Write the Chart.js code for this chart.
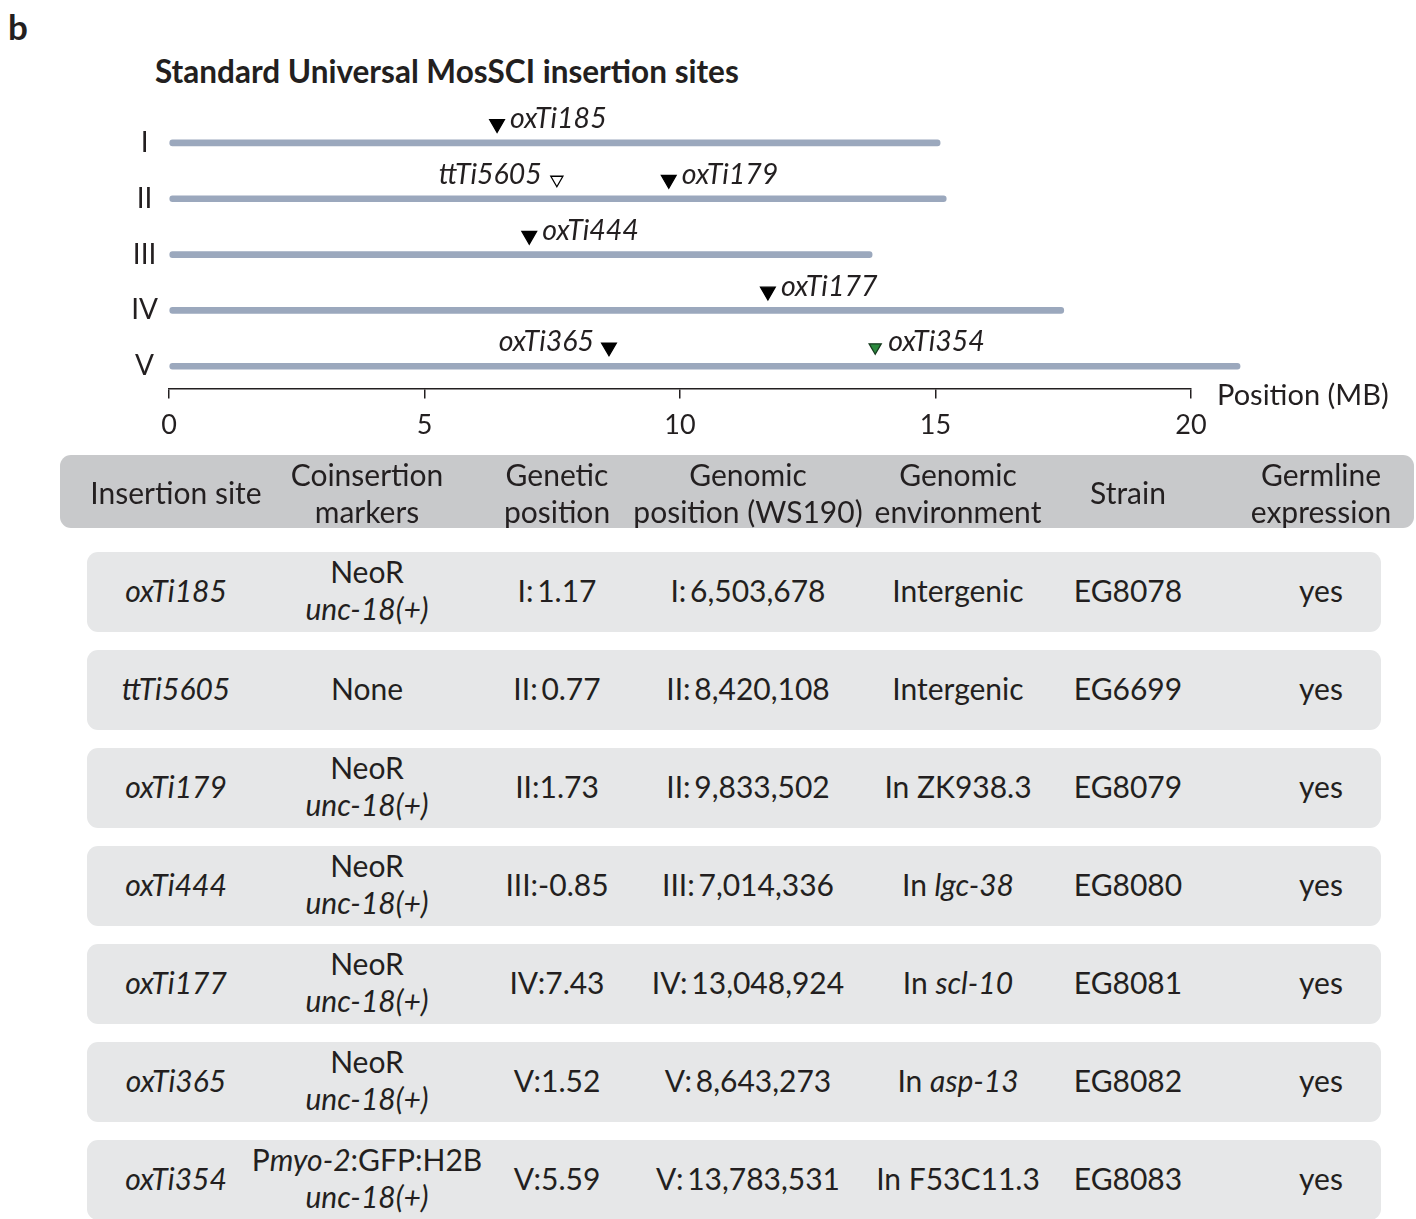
<!DOCTYPE html>
<html>
<head>
<meta charset="utf-8">
<script src="https://cdn.jsdelivr.net/npm/chart.js@4"></script>
<style>
  html, body { margin: 0; padding: 0; background: #fff; }
  #page { position: relative; width: 1416px; height: 1219px; overflow: hidden; font-family: Lato, "Open Sans", sans-serif; color: #231f20; }
  #panel { position: absolute; left: 8px; top: 5px; font: bold 35px Lato, sans-serif; }
  #title { position: absolute; left: 155px; top: 52px; font: bold 31.5px Lato, sans-serif; white-space: nowrap; }
  #map { position: absolute; left: 0; top: 95px; }
  .box { position: absolute; border-radius: 11px; }
  .head { background: #c8c9cb; }
  .row { background: #e6e7e8; }
  .cell { position: absolute; top: 0; bottom: 0; width: 260px; display: flex; align-items: center; justify-content: center; text-align: center; font-size: 30px; line-height: 37px; white-space: nowrap; }
  .cell > div { position: relative; }
</style>
</head>
<body>
<div id="page">
  <div id="panel">b</div>
  <div id="title">Standard Universal MosSCI insertion sites</div>
  <canvas id="map" width="1416" height="361"></canvas>
  <div id="table"></div>
</div>
<script>
// Chromosomes and their lengths (MB)
const chromosomes = ['I', 'II', 'III', 'IV', 'V'];
const chromLengths = [15.09, 15.21, 13.76, 17.51, 20.96];

// Mos1 insertion sites drawn on the map
const siteNames = ['oxTi185', 'ttTi5605', 'oxTi179', 'oxTi444', 'oxTi177', 'oxTi365', 'oxTi354'];
const siteChrom = ['I', 'II', 'II', 'III', 'IV', 'V', 'V'];
const sitePos = [6.42, 7.59, 9.78, 7.05, 11.72, 8.61, 13.82];
const siteLabelSide = ['right', 'left', 'right', 'right', 'right', 'left', 'right'];
const siteFill = ['#000000', '#ffffff', '#000000', '#000000', '#000000', '#000000', '#2b8a3e'];
const siteStroke = ['#000000', '#000000', '#000000', '#000000', '#000000', '#000000', '#173b20'];
const siteRadius = [8.5, 7, 8.5, 8.5, 8.5, 8.5, 7];

// Axis ticks (MB)
const xTicks = [0, 5, 10, 15, 20];

// Table columns
const headers = ['Insertion site', 'Coinsertion<br>markers', 'Genetic<br>position', 'Genomic<br>position (WS190)', 'Genomic<br>environment', 'Strain', 'Germline<br>expression'];
const markerCol = ['NeoR<br><i>unc-18(+)</i>', 'None', 'NeoR<br><i>unc-18(+)</i>', 'NeoR<br><i>unc-18(+)</i>', 'NeoR<br><i>unc-18(+)</i>', 'NeoR<br><i>unc-18(+)</i>', 'P<i>myo-2</i>:GFP:H2B<br><i>unc-18(+)</i>'];
const geneticCol = ['I:\u20091.17', 'II:\u20090.77', 'II:1.73', 'III:-0.85', 'IV:7.43', 'V:1.52', 'V:5.59'];
const genomicCol = ['I:\u20096,503,678', 'II:\u20098,420,108', 'II:\u20099,833,502', 'III:\u20097,014,336', 'IV:\u200913,048,924', 'V:\u20098,643,273', 'V:\u200913,783,531'];
const envCol = ['Intergenic', 'Intergenic', 'In ZK938.3', 'In <i>lgc-38</i>', 'In <i>scl-10</i>', 'In <i>asp-13</i>', 'In F53C11.3'];
const strainCol = ['EG8078', 'EG6699', 'EG8079', 'EG8080', 'EG8081', 'EG8082', 'EG8083'];
const germlineCol = ['yes', 'yes', 'yes', 'yes', 'yes', 'yes', 'yes'];

const INK = '#231f20';
const markerLift = 0.34;   // raise triangles above the chromosome line (in row units)

// Site names beside the triangles, plus the axis caption
const siteLabels = {
  id: 'siteLabels',
  afterDatasetsDraw(chart) {
    const ctx = chart.ctx;
    const meta = chart.getDatasetMeta(2);
    ctx.save();
    ctx.fillStyle = INK;
    ctx.font = 'italic 28.5px Lato, sans-serif';
    ctx.textBaseline = 'middle';
    meta.data.forEach((pt, i) => {
      const right = siteLabelSide[i] === 'right';
      ctx.textAlign = right ? 'left' : 'right';
      ctx.fillText(siteNames[i], pt.x + (right ? 13 : -15), pt.y - 5);
    });
    const xs = chart.scales.x;
    ctx.font = '29px Lato, sans-serif';
    ctx.textAlign = 'left';
    ctx.fillText('Position (MB)', xs.right + 26, xs.top + 7);
    ctx.restore();
  }
};

const barData = chromLengths.map((len, i) => ({ x: [0, len], y: i + 1 }));

new Chart(document.getElementById('map'), {
  type: 'bar',
  data: {
    datasets: [
      {
        data: barData, grouped: false, clip: false,
        barThickness: 6, backgroundColor: '#9ba8bd',
        borderRadius: 3, borderSkipped: false
      },
      {
        data: barData.map(d => ({ x: [0.05, d.x[1] - 0.05], y: d.y })), grouped: false, clip: false,
        barThickness: 2, backgroundColor: '#d3d9e3',
        borderRadius: 1, borderSkipped: false
      },
      {
        type: 'scatter', yAxisID: 'yMarks',
        data: sitePos.map((x, i) => ({ x: x, y: chromosomes.indexOf(siteChrom[i]) + 1 })),
        pointStyle: 'triangle', rotation: 180,
        pointRadius: siteRadius, pointBackgroundColor: siteFill,
        pointBorderColor: siteStroke, pointBorderWidth: 1.3, clip: false
      }
    ]
  },
  options: {
    indexAxis: 'y',
    responsive: false,
    animation: false,
    devicePixelRatio: 1,
    layout: { padding: { left: 0, right: 225, top: 20, bottom: 5 } },
    plugins: { legend: { display: false }, tooltip: { enabled: false } },
    scales: {
      x: {
        type: 'linear', min: 0, max: 20, offset: false,
        afterBuildTicks: s => { s.ticks = xTicks.map(v => ({ value: v })); },
        afterFit: s => { s.paddingLeft = 0; s.paddingRight = 0; },
        grid: { offset: false, drawOnChartArea: false, drawTicks: true, tickLength: 10, color: INK, lineWidth: 1.5 },
        border: { display: true, color: INK, width: 1.5 },
        ticks: { color: INK, font: { family: 'Lato', size: 27 }, padding: 10, maxRotation: 0 }
      },
      y: {
        type: 'linear', min: 0.5, max: 5.4, reverse: true, offset: false,
        afterBuildTicks: s => { s.ticks = chromosomes.map((c, i) => ({ value: i + 1 })); },
        afterFit: s => { s.width = 169; s.paddingTop = 0; s.paddingBottom = 0; },
        grid: { offset: false, display: false, drawTicks: false },
        border: { display: false },
        ticks: {
          color: INK, font: { family: 'Lato', size: 28 }, padding: 11, crossAlign: 'center',
          callback: v => chromosomes[Math.round(v) - 1]
        }
      },
      yMarks: {
        type: 'linear', display: false, reverse: true, offset: false,
        min: 0.5 + markerLift, max: 5.4 + markerLift
      }
    }
  },
  plugins: [siteLabels]
});

// Insertion site table
const colCenters = [176, 367, 557, 748, 958, 1128, 1321];
const table = document.getElementById('table');
function addBox(cls, left, top, width, height, cells, shift) {
  const box = document.createElement('div');
  box.className = 'box ' + cls;
  Object.assign(box.style, { left: left + 'px', top: top + 'px', width: width + 'px', height: height + 'px' });
  cells.forEach((html, c) => {
    const cell = document.createElement('div');
    cell.className = 'cell';
    cell.style.left = (colCenters[c] - left - 130) + 'px';
    const inner = document.createElement('div');
    inner.style.top = shift + 'px';
    inner.innerHTML = html;
    cell.appendChild(inner);
    box.appendChild(cell);
  });
  table.appendChild(box);
}
addBox('head', 60, 455, 1354, 73, headers, 1);
siteNames.forEach((name, r) => {
  addBox('row', 87, 552 + r * 98, 1294, 80,
    ['<i>' + name + '</i>', markerCol[r], geneticCol[r], genomicCol[r], envCol[r], strainCol[r], germlineCol[r]], -2);
});
</script>
</body>
</html>
